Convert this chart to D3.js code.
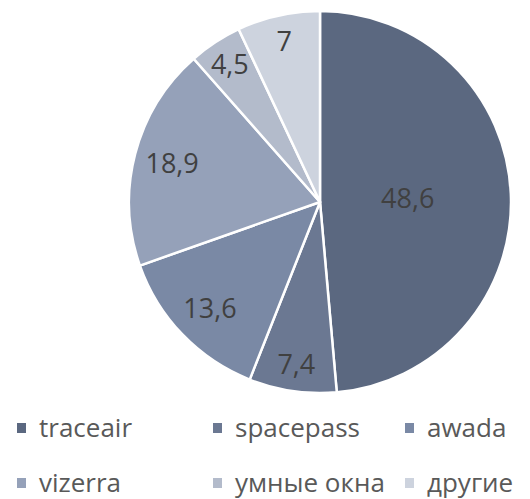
<!DOCTYPE html>
<html>
<head>
<meta charset="utf-8">
<script src="https://cdn.jsdelivr.net/npm/d3@7"></script>
<style>
  body { margin: 0; background: #fff; }
  #chart { width: 530px; height: 499px; }
  text { font-family: "Open Sans", sans-serif; }
</style>
</head>
<body>
<div id="chart"></div>
<script>

var names = ["traceair", "spacepass", "awada", "vizerra", "умные окна", "другие"];
var shares = [48.6, 7.4, 13.6, 18.9, 4.5, 7];
var colors = ["#5b6880", "#6b7892", "#7a89a5", "#95a1b9", "#b3bbcb", "#cdd3de"];

var data = names.map(function(n, i) {
    return { name: n, value: shares[i] };
});

var width = 530, height = 499;
var cx = 320, cy = 202, r = 191;

var svg = d3.select("#chart")
    .append("svg")
    .attr("width", width)
    .attr("height", height);

var color = d3.scaleOrdinal().domain(names).range(colors);

var pie = d3.pie()
    .sort(null)
    .value(function(d) { return d.value; });

var arc = d3.arc().innerRadius(0).outerRadius(r);

var g = svg.append("g")
    .attr("transform", "translate(" + cx + "," + cy + ")");

var slices = pie(data);

g.selectAll("path")
    .data(slices)
    .enter()
    .append("path")
        .attr("d", arc)
        .attr("fill", function(d) { return color(d.data.name); })
        .attr("stroke", "#fff")
        .attr("stroke-width", 2.5)
        .attr("stroke-linejoin", "round");

// big slice label near the middle, thin slices pushed out towards the rim
function labelRadius(d) {
    if (d.data.value > 40) return r * 0.46;
    if (d.data.value < 10) return r * 0.86;
    return r * 0.8;
}

g.selectAll("text.lbl")
    .data(slices)
    .enter()
    .append("text")
        .attr("class", "lbl")
        .attr("transform", function(d) {
            var a = (d.startAngle + d.endAngle) / 2;
            var lr = labelRadius(d);
            return "translate(" + (Math.sin(a) * lr) + "," + (-Math.cos(a) * lr) + ")";
        })
        .attr("text-anchor", "middle")
        .attr("dy", "0.36em")
        .attr("font-size", 27)
        .attr("fill", "#404040")
        .text(function(d) { return String(d.data.value).replace(".", ","); });

// legend, 3 columns x 2 rows
var colX = d3.scaleOrdinal().domain([0, 1, 2]).range([17, 213, 405]);
var rowY = d3.scaleOrdinal().domain([0, 1]).range([428, 483]);

var leg = svg.selectAll("g.leg")
    .data(data)
    .enter()
    .append("g")
        .attr("class", "leg")
        .attr("transform", function(d, i) {
            return "translate(" + colX(i % 3) + "," + rowY(Math.floor(i / 3)) + ")";
        });

leg.append("rect")
    .attr("x", 0)
    .attr("y", -5)
    .attr("width", 9)
    .attr("height", 10)
    .attr("fill", function(d) { return color(d.name); });

leg.append("text")
    .attr("x", 22)
    .attr("dy", "0.36em")
    .attr("font-size", 26)
    .attr("fill", "#595959")
    .text(function(d) { return d.name; });

</script>
</body>
</html>
